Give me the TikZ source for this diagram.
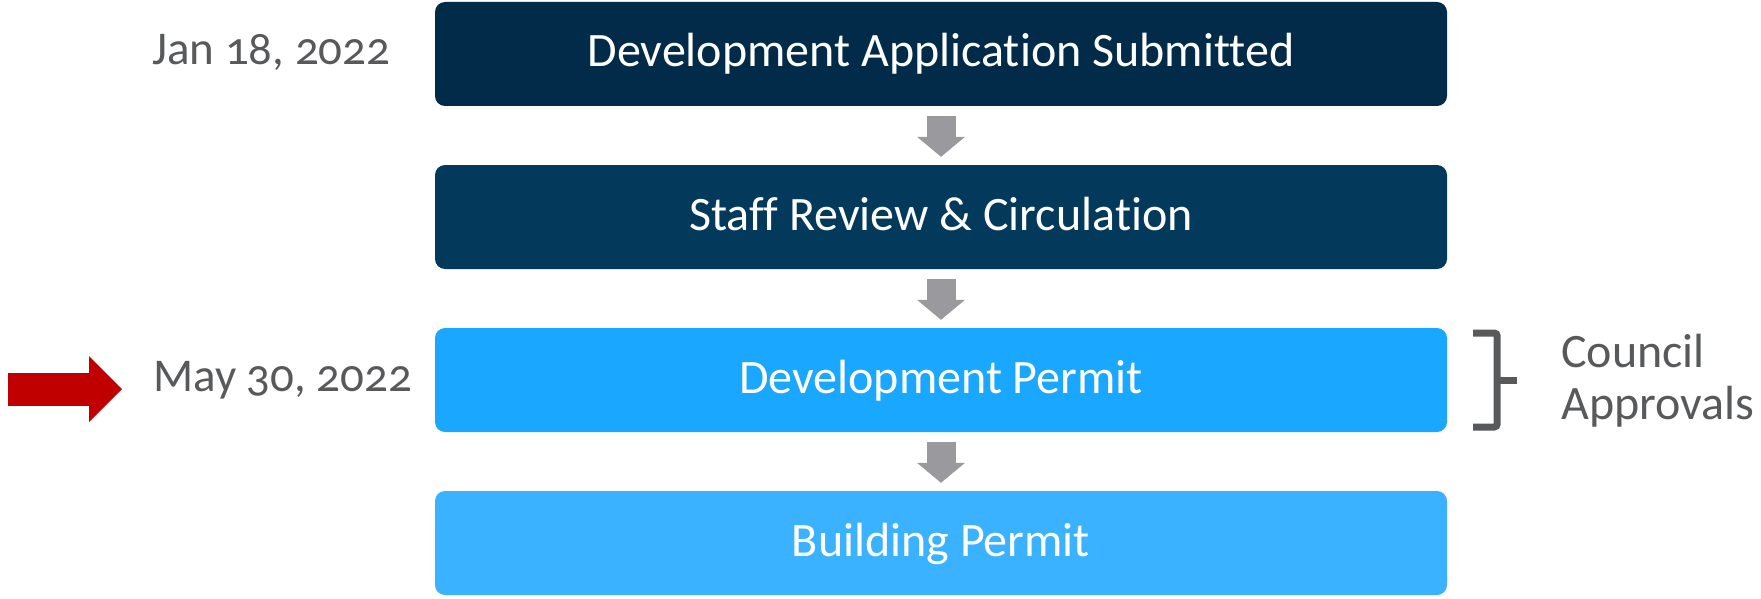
\documentclass[tikz,border=0pt]{standalone}
\usepackage{fontspec}
\setmainfont{Carlito}[Numbers=OldStyle, Ligatures=NoCommon]
\usetikzlibrary{arrows.meta}
\definecolor{boxA}{HTML}{012B48}
\definecolor{boxB}{HTML}{033A5B}
\definecolor{boxC}{HTML}{1AA7FF}
\definecolor{boxD}{HTML}{3BB2FF}
\definecolor{arrowgray}{HTML}{9A9A9E}
\definecolor{textgray}{HTML}{58595B}
\definecolor{darkred}{HTML}{C00000}
\begin{document}
\begin{tikzpicture}[x=1pt,y=-1pt,
  stagebox/.style={rounded corners=10pt, minimum width=1012pt, minimum height=104pt,
    inner sep=0pt, text=white, text height=26pt, text depth=0pt,
    font=\fontsize{48}{56}\selectfont},
  datelabel/.style={anchor=base west, inner sep=0pt, text=textgray,
    font=\fontsize{47}{52}\selectfont},
  flowarrow/.style={draw=arrowgray, line width=29pt,
    -{Triangle[width=48pt,length=20pt,line width=0pt]}},
  markarrow/.style={draw=darkred, line width=33pt,
    -{Triangle[width=66pt,length=33pt,line width=0pt]}},
  bracestyle/.style={draw=textgray, line width=7pt, rounded corners=3pt}
]
\useasboundingbox (0,0) rectangle (1761,599);

\node[stagebox, fill=boxA] (b1) at (941,54) {Development Application Submitted};
\node[stagebox, fill=boxB] (b2) at (941,217) {Staff Review \& Circulation};
\node[stagebox, fill=boxC] (b3) at (941,380) {Development Permit};
\node[stagebox, fill=boxD] (b4) at (941,543) {Building Permit};

\draw[flowarrow] ([yshift=-10pt]b1.south) -- ([yshift=8pt]b2.north);
\draw[flowarrow] ([yshift=-10pt]b2.south) -- ([yshift=8pt]b3.north);
\draw[flowarrow] ([yshift=-10pt]b3.south) -- ([yshift=8pt]b4.north);

\node[datelabel] (d1) at (152,65) {Jan 18, 2022};
\node[datelabel] (d3) at (153,391) {May 30, 2022};

\coordinate (rs) at (8,389);
\coordinate (re) at (122,389);
\draw[markarrow] (rs) -- (re);

\draw[bracestyle] ([xshift=26pt,yshift=-47pt]b3.east) -- ([xshift=50pt,yshift=-47pt]b3.east)
  -- ([xshift=50pt,yshift=47pt]b3.east) -- ([xshift=26pt,yshift=47pt]b3.east);
\draw[draw=textgray, line width=7pt] ([xshift=50pt]b3.east) -- ([xshift=70pt]b3.east);

\node[anchor=base west, inner sep=0pt, align=left, text=textgray,
  font=\fontsize{48}{52}\selectfont] (ca) at (1561,419) {Council\\Approvals};
\end{tikzpicture}
\end{document}
